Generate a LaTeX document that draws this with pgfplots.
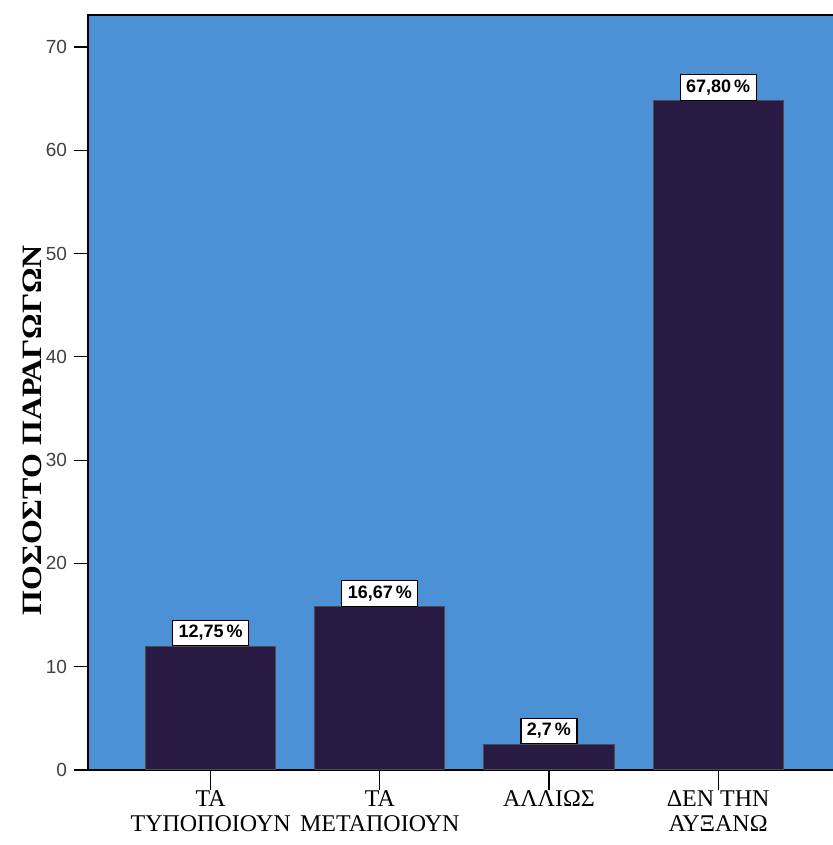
\documentclass[border=0pt]{standalone}
\usepackage{fontspec}
\setmainfont{Liberation Serif}
\setsansfont{Liberation Sans}
\newfontfamily\ylabfont[FakeStretch=1.14]{Liberation Serif}
\usepackage{pgfplots}
\pgfplotsset{compat=1.18}
\definecolor{bgblue}{RGB}{76,145,214}
\definecolor{barpurple}{RGB}{40,26,66}
\begin{document}
\begin{tikzpicture}
\begin{axis}[
  at={(0,0)}, anchor=south west,
  scale only axis, width=373pt, height=377.5pt,
  xmin=-0.725, xmax=3.685, ymin=0, ymax=73.1,
  axis background/.style={fill=bgblue},
  axis line style={line width=1pt, black},
  tick pos=left, tick align=outside,
  major tick length=7pt,
  every tick/.style={black, line width=0.6pt},
  xtick style={/pgfplots/major tick length=10pt},
  ytick={0,10,...,70},
  xtick={0,1,2,3},
  xticklabels={{ΤΑ\\ΤΥΠΟΠΟΙΟΥΝ},{ΤΑ\\ΜΕΤΑΠΟΙΟΥΝ},{ΑΛΛΙΩΣ},{ΔΕΝ ΤΗΝ\\ΑΥΞΑΝΩ}},
  xticklabel style={align=center, font=\fontsize{12}{12.5}\selectfont, yshift=-1.5pt, inner ysep=1.5pt},
  yticklabel style={font=\sffamily\fontsize{9.5}{12}\selectfont, text=black!75},
  /pgf/number format/assume math mode=true,
  ylabel={ΠΟΣΟΣΤΟ ΠΑΡΑΓΩΓΩΝ},
  ylabel style={at={(axis description cs:-0.074,0.45)}, anchor=center,
    font=\ylabfont\bfseries\fontsize{14}{16}\selectfont},
  nodes near coords={\pgfplotspointmeta},
  every node near coord/.append style={fill=white, draw=black, line width=0.6pt,
    font=\sffamily\bfseries\fontsize{9}{10}\selectfont, inner xsep=3pt, inner ysep=2.5pt, anchor=south, yshift=0pt},
]
\addplot[ybar, bar width=0.77, fill=barpurple, draw=black!70, line width=0.5pt,
  point meta=explicit symbolic] coordinates {
  (0,12.0) [12,75\,\%]
  (1,15.8) [16,67\,\%]
  (2,2.5) [2,7\,\%]
  (3,64.8) [67,80\,\%]
};
\end{axis}
\pgfresetboundingbox
\path (-44pt,-37.5pt) rectangle (372pt,385pt);
\end{tikzpicture}
\end{document}
